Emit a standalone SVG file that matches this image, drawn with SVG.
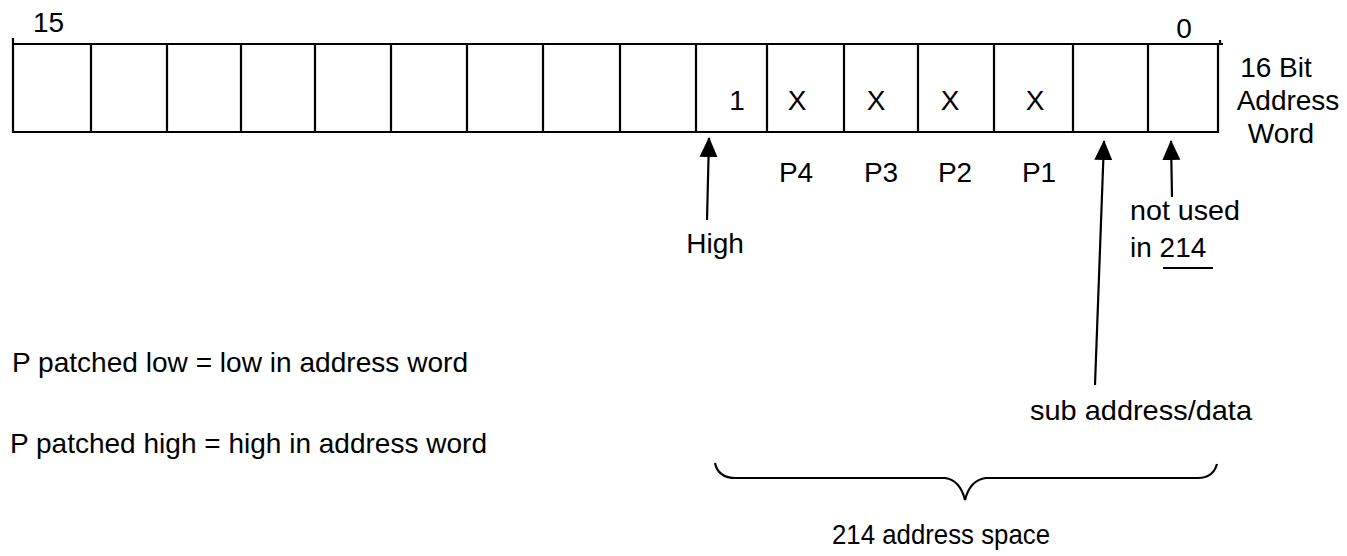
<svg xmlns="http://www.w3.org/2000/svg" width="1347" height="556" viewBox="0 0 1347 556">
  <style>
    text { font-family: "Liberation Sans", Arial, sans-serif; font-size: 28px; fill: #000; }
    .cell { fill: none; stroke: #000; stroke-width: 2.2; }
    .wire { fill: none; stroke: #000; stroke-width: 2.2; }
    .mid { text-anchor: middle; }
  </style>
  <defs>
    <!-- solid triangular arrowhead, tip along +x -->
    <marker id="head" viewBox="0 0 20 20" markerWidth="20" markerHeight="20" refX="19" refY="10" orient="auto" markerUnits="userSpaceOnUse">
      <path d="M20,10 L0,1 L0,19 Z" fill="#000"/>
    </marker>
  </defs>

  <rect width="1347" height="556" fill="#fff"/>

  <!-- 16-bit address word register -->
  <g id="register">
    <path class="cell" d="M13,38 L13,132 L1218,132 L1218,44 L13,44 M1218,44 L1223,44 M1220,40 L1220,44"/>
    <path class="cell" d="M91,44 V132 M167,44 V132 M241,44 V132 M315,44 V132 M391,44 V132 M467,44 V132 M543,44 V132 M620,44 V132 M696,44 V132 M767,44 V132 M844,44 V132 M918,44 V132 M994,44 V132 M1073,44 V132 M1148,44 V132"/>
    <text x="33" y="32">15</text>
    <text x="1184" y="38" class="mid">0</text>
  </g>

  <!-- bit contents -->
  <g id="bits">
    <text x="737" y="110" class="mid">1</text>
    <text x="797" y="110" class="mid">X</text>
    <text x="876" y="110" class="mid">X</text>
    <text x="950" y="110" class="mid">X</text>
    <text x="1035" y="110" class="mid">X</text>
  </g>

  <g id="word-label">
    <text x="1276" y="77" class="mid">16 Bit</text>
    <text x="1288" y="110" class="mid">Address</text>
    <text x="1281" y="143" class="mid">Word</text>
  </g>

  <g id="patch-labels">
    <text x="796" y="182" class="mid">P4</text>
    <text x="881" y="182" class="mid">P3</text>
    <text x="955" y="182" class="mid">P2</text>
    <text x="1039" y="182" class="mid">P1</text>
  </g>

  <!-- pointer arrows -->
  <g id="connectors">
    <line class="wire" x1="707" y1="220" x2="709" y2="138" marker-end="url(#head)"/>
    <line class="wire" x1="1095" y1="385" x2="1104" y2="141" marker-end="url(#head)"/>
    <line class="wire" x1="1172" y1="197" x2="1171" y2="141" marker-end="url(#head)"/>
  </g>

  <g id="high-label">
    <text x="715" y="253" class="mid">High</text>
  </g>

  <g id="unused-label">
    <text x="1130" y="220" textLength="110" lengthAdjust="spacingAndGlyphs">not used</text>
    <text x="1130" y="257">in 214</text>
    <line class="wire" x1="1163" y1="268" x2="1213" y2="268"/>
  </g>

  <g id="subaddress-label">
    <text x="1030" y="420" textLength="222" lengthAdjust="spacingAndGlyphs">sub address/data</text>
  </g>

  <!-- brace spanning the low bits -->
  <g id="brace">
    <path class="wire" d="M715,463 Q718,478 736,478 L945,478 Q960,480 965,500 Q970,480 986,478 L1198,478 Q1213,478 1217,464"/>
    <text x="832" y="544" textLength="218" lengthAdjust="spacingAndGlyphs">214 address space</text>
  </g>

  <g id="notes">
    <text x="12" y="372" textLength="456" lengthAdjust="spacingAndGlyphs">P patched low = low in address word</text>
    <text x="10" y="453" textLength="477" lengthAdjust="spacingAndGlyphs">P patched high = high in address word</text>
  </g>
</svg>
